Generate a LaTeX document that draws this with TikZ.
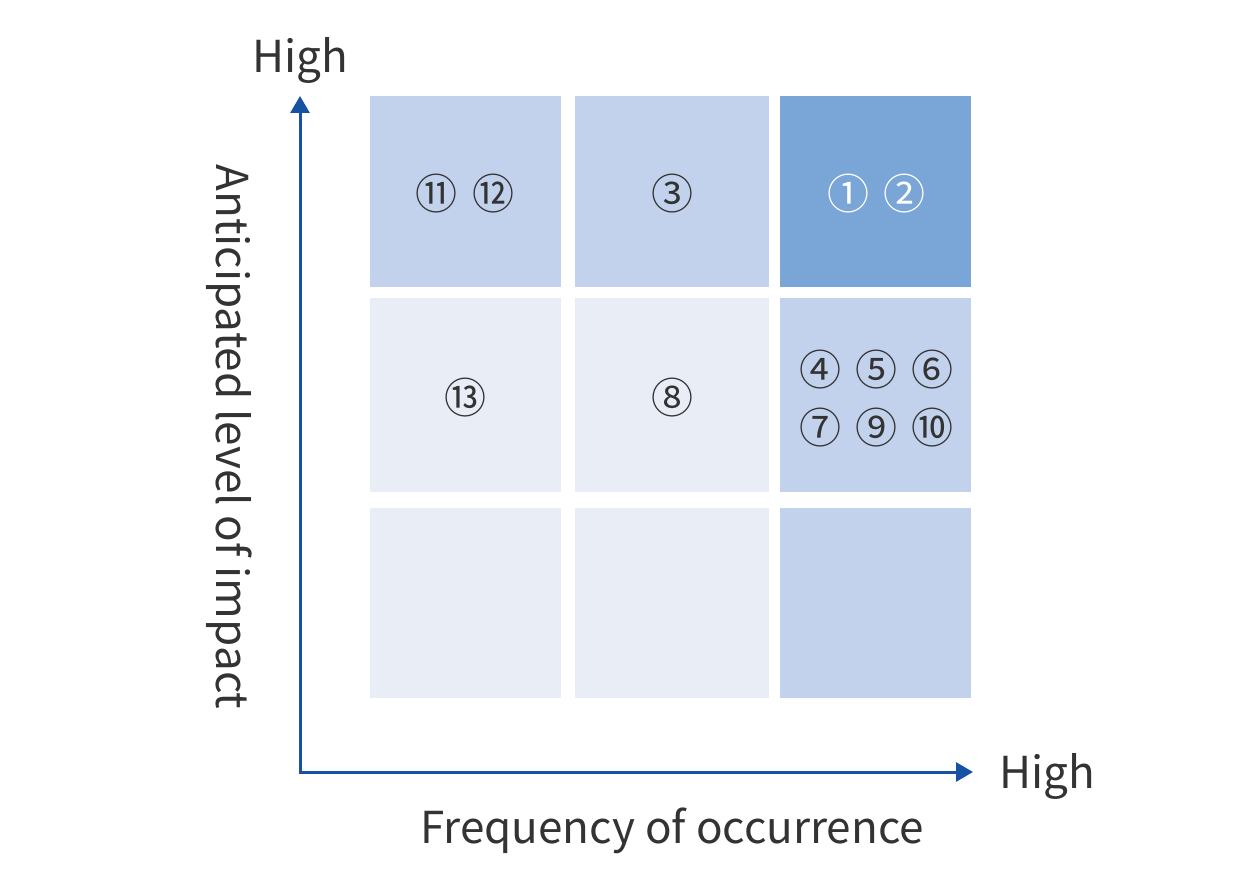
\documentclass[tikz,border=0pt]{standalone}
\usepackage{fontspec}
\setmainfont{Noto Sans CJK JP}
\usetikzlibrary{arrows.meta}
\definecolor{cdark}{HTML}{7AA5D7}
\definecolor{cmid}{HTML}{C2D2EC}
\definecolor{clight}{HTML}{E8EDF6}
\definecolor{axisblue}{HTML}{1652A4}
\definecolor{txt}{HTML}{333333}
\tikzset{
  cell/.style={rectangle, inner sep=0pt, draw=none},
  num/.style={inner sep=0pt, text=txt, font=\fontsize{42}{50}\selectfont},
  lbl/.style={text=txt, inner sep=0pt, anchor=base, font=\fontsize{44}{52}\selectfont},
  axis/.style={draw=axisblue, line width=3pt, line join=miter,
    {Triangle[length=17pt,width=19pt]}-{Triangle[length=17pt,width=19pt]}}
}
\begin{document}
\begin{tikzpicture}[x=1pt,y=-1pt]
\useasboundingbox (0,0) rectangle (1260,880);
% cells: columns 370-561, 575-769, 780-971; rows 96-287, 298-492, 508-698
\node[cell, fill=cmid, minimum width=191pt, minimum height=191pt] (c11) at (465.5,191.5) {};
\node[cell, fill=cmid, minimum width=194pt, minimum height=191pt] (c12) at (672,191.5) {};
\node[cell, fill=cdark, minimum width=191pt, minimum height=191pt] (c13) at (875.5,191.5) {};
\node[cell, fill=clight, minimum width=191pt, minimum height=194pt] (c21) at (465.5,395) {};
\node[cell, fill=clight, minimum width=194pt, minimum height=194pt] (c22) at (672,395) {};
\node[cell, fill=cmid, minimum width=191pt, minimum height=194pt] (c23) at (875.5,395) {};
\node[cell, fill=clight, minimum width=191pt, minimum height=190pt] (c31) at (465.5,603) {};
\node[cell, fill=clight, minimum width=194pt, minimum height=190pt] (c32) at (672,603) {};
\node[cell, fill=cmid, minimum width=191pt, minimum height=190pt] (c33) at (875.5,603) {};
% circled numbers
\node[num] (n11) at (436,194) {⑪};
\node[num] (n12) at (493,194) {⑫};
\node[num] (n3) at (672,194) {③};
\node[num, text=white] (n1) at (848,194) {①};
\node[num, text=white] (n2) at (904,194) {②};
\node[num] (n13) at (465,398) {⑬};
\node[num] (n8) at (672,398) {⑧};
\node[num] (n4) at (820,370) {④};
\node[num] (n5) at (876,370) {⑤};
\node[num] (n6) at (932,370) {⑥};
\node[num] (n7) at (820,428) {⑦};
\node[num] (n9) at (876,428) {⑨};
\node[num] (n10) at (932,428) {⑩};
% axes
\coordinate (O) at (300,772);
\coordinate (ytip) at (300,96);
\coordinate (xtip) at (973,772);
\draw[axis] (ytip) -- (O) -- (xtip);
% labels
\node[lbl] (yhigh) at (300,73) {High};
\node[lbl] (xhigh) at (1047,788) {High};
\node[lbl] (xlabel) at (672,843) {Frequency of occurrence};
\node[lbl, rotate=-90] (ylabel) at (216,437) {Anticipated level of impact};
\end{tikzpicture}
\end{document}
